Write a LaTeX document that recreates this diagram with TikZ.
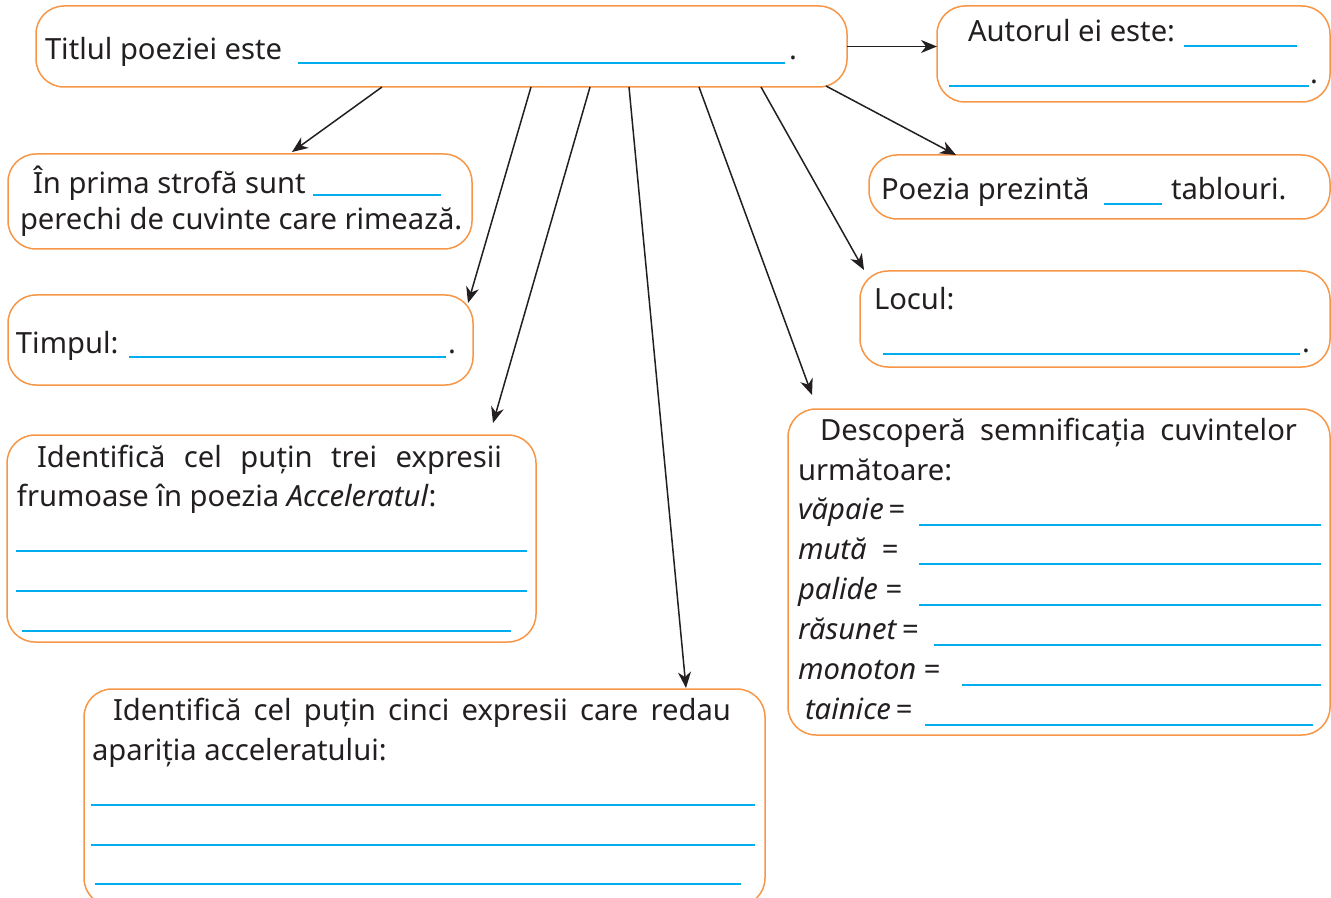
\documentclass[tikz,border=0pt]{standalone}
\usepackage{fontspec}
\setmainfont{Noto Sans}
\usetikzlibrary{arrows.meta}
\definecolor{portocaliu}{RGB}{247,150,70}
\definecolor{albastru}{RGB}{0,174,239}
\definecolor{negru}{RGB}{35,31,32}
\tikzset{
  cutie/.style={draw=portocaliu, line width=0.75pt, rounded corners=14pt, inner sep=0pt, outer sep=0pt},
  txt/.style={anchor=base west, inner sep=0pt, outer sep=0pt, text=negru, font=\fontsize{14.6}{19.5}\selectfont},
  linie/.style={albastru, line width=1.4pt},
  sageata/.style={negru, line width=0.75pt, -{Stealth[length=8pt,width=6.5pt,inset=2.5pt]}}
}
\begin{document}
\begin{tikzpicture}[x=0.5pt,y=-0.5pt]
\useasboundingbox (0,0) rectangle (1331,898);
% casetele
\node [cutie, minimum width=405.5pt, minimum height=40.5pt] (titlu) at (441.5,46.5) {};
\node [cutie, minimum width=196.5pt, minimum height=48pt] (autor) at (1133.5,54) {};
\node [cutie, minimum width=232pt, minimum height=47.5pt] (prima) at (240,201.5) {};
\node [cutie, minimum width=230.5pt, minimum height=32pt] (poezia) at (1099.5,187) {};
\node [cutie, minimum width=232.5pt, minimum height=45pt] (timpul) at (240.5,340) {};
\node [cutie, minimum width=235pt, minimum height=48pt] (locul) at (1095,319) {};
\node [cutie, minimum width=264.5pt, minimum height=103.5pt] (trei) at (271.5,538.5) {};
\node [cutie, minimum width=271pt, minimum height=163pt] (descopera) at (1059,572) {};
\node [cutie, minimum width=340.5pt, minimum height=108.5pt] (cinci) at (424.5,797.5) {};

% titlul
\node [txt] (tTitlu) at (45,60) {Titlul poeziei este};
\draw [linie] (298,63) -- (785,63);
\node [txt] (pTitlu) at (789,60) {.};

% autorul
\node [txt] (tAutor) at (968,42) {Autorul ei este:};
\draw [linie] (1184,46) -- (1297,46);
\draw [linie] (949,86) -- (1309,86);
\node [txt] (pAutor) at (1310,84) {.};

% prima strofa
\node [txt] (tPrima1) at (33,194) {În prima strofă sunt};
\draw [linie] (313,195) -- (441,195);
\node [txt] (tPrima2) at (20,230) {perechi de cuvinte care rimează.};

% tablouri
\node [txt] (tPoezia) at (881,200) {Poezia prezintă};
\draw [linie] (1104,204) -- (1162,204);
\node [txt] (tTablouri) at (1171,200) {tablouri.};

% timpul
\node [txt] (tTimpul) at (16,353) {Timpul:};
\draw [linie] (129,357) -- (446,357);
\node [txt] (pTimpul) at (448,353) {.};

% locul
\node [txt] (tLocul) at (874,310) {Locul:};
\draw [linie] (883,354) -- (1300,354);
\node [txt] (pLocul) at (1302,352) {.};

% trei expresii
\node [txt] (tTrei1) at (37,467) {\makebox[232.5pt][s]{Identifică cel puțin trei expresii}};
\node [txt] (tTrei2) at (17,506) {frumoase în poezia \textit{Acceleratul}:};
\draw [linie] (16,551) -- (527,551);
\draw [linie] (16,591) -- (527,591);
\draw [linie] (22,631) -- (511,631);

% cinci expresii
\node [txt] (tCinci1) at (113,720) {\makebox[309pt][s]{Identifică cel puțin cinci expresii care redau}};
\node [txt] (tCinci2) at (92,760) {apariția acceleratului:};
\draw [linie] (91,805) -- (755,805);
\draw [linie] (91,845) -- (755,845);
\draw [linie] (95,884) -- (741,884);

% semnificatii
\node [txt] (tDesc1) at (820,440) {\makebox[238.5pt][s]{Descoperă semnificația cuvintelor}};
\node [txt] (tDesc2) at (798,480) {următoare:};
\node [txt] (wVapaie) at (798,519) {\textit{văpaie}\,=};
\draw [linie] (919,525) -- (1321,525);
\node [txt] (wMuta) at (798,559) {\textit{mută}\ \ =};
\draw [linie] (919,564) -- (1321,564);
\node [txt] (wPalide) at (798,599) {\textit{palide} =};
\draw [linie] (919,605) -- (1321,605);
\node [txt] (wRasunet) at (798,639) {\textit{răsunet}\,=};
\draw [linie] (934,645) -- (1321,645);
\node [txt] (wMonoton) at (798,679) {\textit{monoton} =};
\draw [linie] (962,685) -- (1321,685);
\node [txt] (wTainice) at (805,719) {\textit{tainice}\,=};
\draw [linie] (925,725) -- (1313,725);

% sagetile
\draw [sageata] (titlu.east) -- (titlu.east -| autor.west);
\draw [sageata] ([xshift=173pt]titlu.south west) -- ([xshift=142pt,yshift=1pt]prima.north west);
\draw [sageata] ([xshift=247.5pt]titlu.south west) -- ([xshift=-2.5pt,yshift=-4pt]timpul.north east);
\draw [sageata] ([xshift=277pt]titlu.south west) -- ([xshift=243pt,yshift=6pt]trei.north west);
\draw [sageata] ([xshift=296.5pt]titlu.south west) -- ([xshift=301pt,yshift=0.5pt]cinci.north west);
\draw [sageata] ([xshift=331.5pt]titlu.south west) -- ([xshift=12pt,yshift=7pt]descopera.north west);
\draw [sageata] ([xshift=362.5pt]titlu.south west) -- ([xshift=2pt,yshift=0.5pt]locul.north west);
\draw [sageata] ([xshift=395pt,yshift=0.5pt]titlu.south west) -- ([xshift=43.5pt]poezia.north west);
\end{tikzpicture}
\end{document}
